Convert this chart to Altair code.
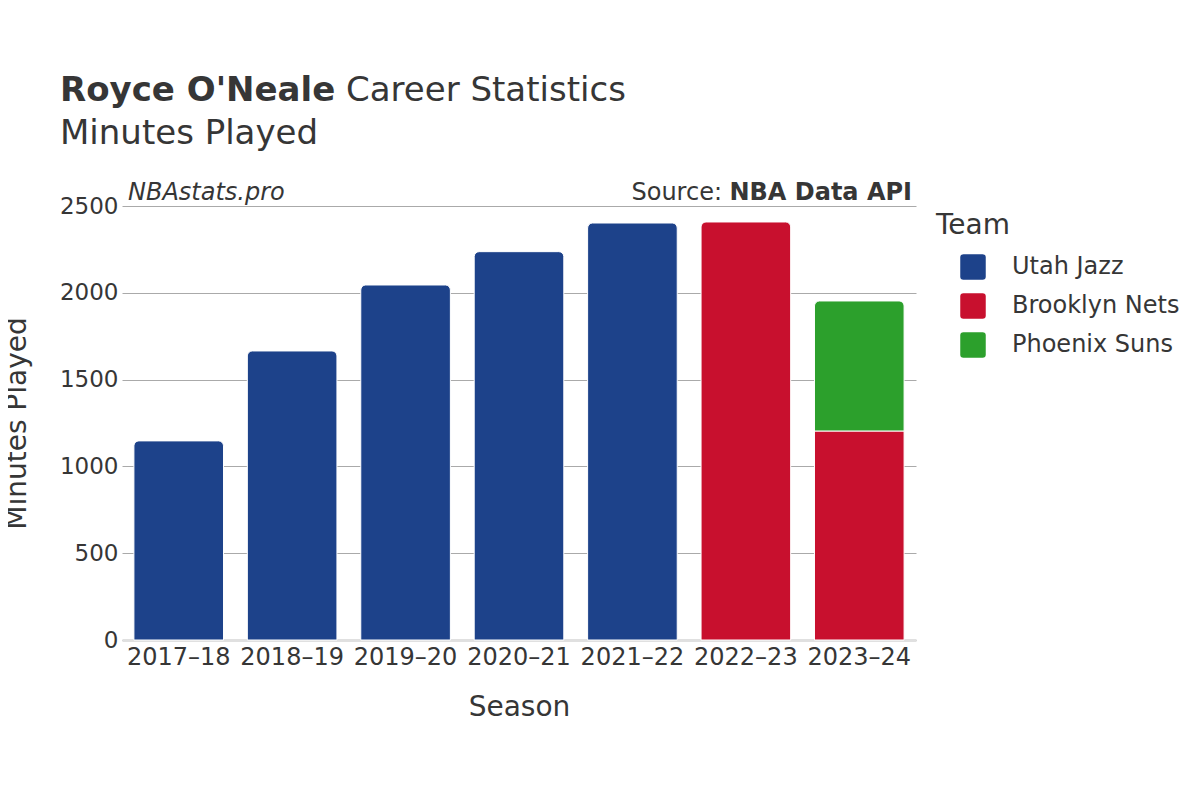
import altair as alt
import pandas as pd

seasons = ["2017–18", "2018–19", "2019–20", "2020–21", "2021–22", "2022–23", "2023–24", "2023–24"]
teams = ["Utah Jazz", "Utah Jazz", "Utah Jazz", "Utah Jazz", "Utah Jazz", "Brooklyn Nets", "Brooklyn Nets", "Phoenix Suns"]
minutes = [1147, 1665, 2045, 2237, 2402, 2408, 1204, 749]
stack_order = [0, 0, 0, 0, 0, 0, 0, 1]

season_order = ["2017–18", "2018–19", "2019–20", "2020–21", "2021–22", "2022–23", "2023–24"]
team_names = ["Utah Jazz", "Brooklyn Nets", "Phoenix Suns"]
team_colors = ["#1d428a", "#c8102e", "#2ca02c"]

TEXT = "#363636"
FONT = "DejaVu Sans"

df = pd.DataFrame({"Season": seasons, "Team": teams, "Minutes": minutes, "ord": stack_order})

base = alt.Chart(df).transform_stack(
    stack="Minutes", groupby=["Season"], sort=[alt.SortField("ord")], as_=["y0", "y1"]
).transform_joinaggregate(
    maxord="max(ord)", groupby=["Season"]
).transform_calculate(
    is_top="datum.ord == datum.maxord"
)

enc = dict(
    x=alt.X("Season:N", sort=season_order,
            scale=alt.Scale(paddingInner=0.21, paddingOuter=0.105),
            axis=alt.Axis(title="Season", labelAngle=0, ticks=False, domain=True,
                          domainColor="#e0e0e0", domainWidth=3,
                          labelFontSize=24, labelColor=TEXT, labelPadding=5,
                          titleFontSize=28, titleColor=TEXT, titleFontWeight="normal",
                          titlePadding=24)),
    y=alt.Y("y0:Q", scale=alt.Scale(domain=[0, 2500]),
            axis=alt.Axis(title="Minutes Played", values=[0, 500, 1000, 1500, 2000, 2500],
                          format="d",
                          ticks=False, domain=False, gridColor="#aaaaaa", gridWidth=1,
                          labelFontSize=23, labelColor=TEXT, labelPadding=4,
                          titleFontSize=28, titleColor=TEXT, titleFontWeight="normal",
                          titlePadding=28)),
    y2="y1:Q",
    color=alt.Color("Team:N", scale=alt.Scale(domain=team_names, range=team_colors),
                    legend=alt.Legend(title="Team", orient="none", legendX=814, legendY=6,
                                      titleFontSize=28, titleColor=TEXT, titleFontWeight="normal",
                                      titlePadding=14,
                                      labelFontSize=24, labelColor=TEXT, labelOffset=26,
                                      labelLimit=400, symbolOffset=24,
                                      symbolType="M -0.75 -1 L 0.75 -1 Q 1 -1 1 -0.75 L 1 0.75 Q 1 1 0.75 1 L -0.75 1 Q -1 1 -1 0.75 L -1 -0.75 Q -1 -1 -0.75 -1 Z",
                                      symbolSize=650, symbolStrokeWidth=0, symbolOpacity=1,
                                      rowPadding=13, padding=0)),
)

top_bars = base.transform_filter("datum.is_top").mark_bar(
    cornerRadiusTopLeft=5, cornerRadiusTopRight=5, stroke="white", strokeWidth=1
).encode(**enc)
other_bars = base.transform_filter("!datum.is_top").mark_bar(
    stroke="white", strokeWidth=1
).encode(**enc)

def txt(s, x, y, size, weight="normal", style="normal", align="left"):
    return alt.Chart(pd.DataFrame({"t": [s]})).mark_text(
        align=align, baseline="alphabetic", fontSize=size, fontWeight=weight,
        fontStyle=style, font=FONT, color=TEXT
    ).encode(text="t:N", x=alt.value(x), y=alt.value(y))

t1 = txt("Royce O'Neale", -62, -105, 34, weight="bold")
t2 = txt("Career Statistics", 224, -105, 34)
t3 = txt("Minutes Played", -62, -62, 34)
t4 = txt("NBAstats.pro", 6, -6, 24, style="italic")
t5a = txt("Source:", 600, -6, 24, align="right")
t5 = txt("NBA Data API", 790, -6, 24, weight="bold", align="right")

chart = alt.layer(other_bars, top_bars, t1, t2, t3, t4, t5, t5a).properties(
    width=794, height=434,
    autosize=alt.AutoSizeParams(type="none"),
    padding={"left": 114, "top": 198, "right": 276, "bottom": 152},
).configure(font=FONT).configure_view(stroke=None)

chart.save("out.html", embed_options={"renderer": "svg", "actions": False})
